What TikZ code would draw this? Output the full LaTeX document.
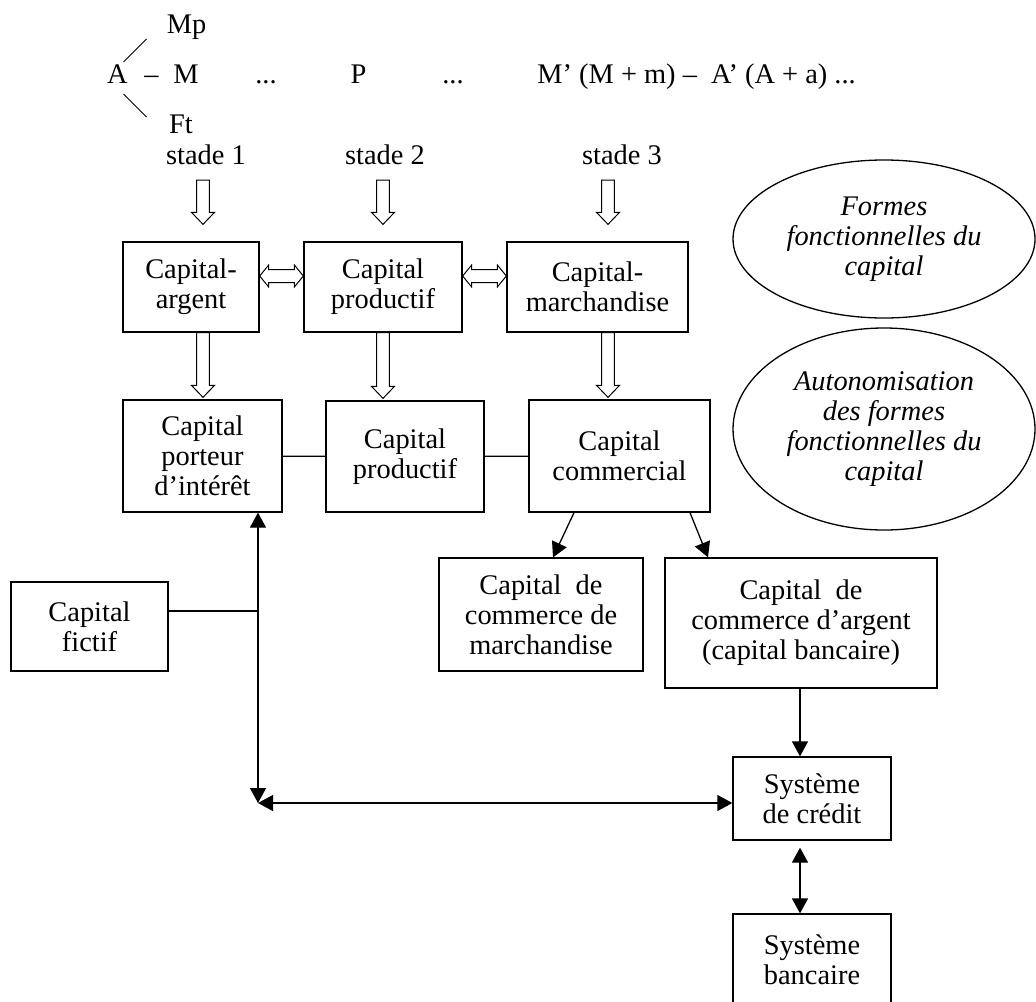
\documentclass[tikz,border=0pt]{standalone}
\usepackage{fontspec}
\setmainfont{Liberation Serif}
\usepackage{tikz}
\usetikzlibrary{arrows.meta,calc,shapes.geometric,positioning}

\tikzstyle{box}  = [draw,line width=0.65pt,align=center,inner sep=2pt]
\tikzstyle{txt}  = [inner sep=0pt,anchor=base]
\tikzstyle{oval} = [draw,ellipse,line width=0.65pt,align=center,inner sep=0pt,font=\fontsize{14.2}{15}\selectfont\itshape]
\tikzstyle{link} = [line width=0.65pt]
\tikzstyle{hollow} = [line width=0.5pt,to path={
  let \p1=(\tikztostart), \p2=(\tikztotarget) in
  ($(\p1)!3.2pt!90:(\p2)$) -- ($(\p2)!6pt!(\p1)!3.2pt!90:(\p2)$) -- ($(\p2)!6pt!(\p1)!5.75pt!90:(\p2)$) -- (\p2)
  -- ($(\p2)!6pt!(\p1)!5.75pt!-90:(\p2)$) -- ($(\p2)!6pt!(\p1)!3.2pt!-90:(\p2)$) -- ($(\p1)!3.2pt!-90:(\p2)$) -- cycle}]
\tikzstyle{hollowboth} = [line width=0.5pt,to path={
  let \p1=(\tikztostart), \p2=(\tikztotarget) in
  (\p1) -- ($(\p1)!4.5pt!(\p2)!5.5pt!90:(\p2)$) -- ($(\p1)!4.5pt!(\p2)!3.25pt!90:(\p2)$)
  -- ($(\p2)!4.5pt!(\p1)!3.25pt!90:(\p2)$) -- ($(\p2)!4.5pt!(\p1)!5.5pt!90:(\p2)$) -- (\p2)
  -- ($(\p2)!4.5pt!(\p1)!5.5pt!-90:(\p2)$) -- ($(\p2)!4.5pt!(\p1)!3.25pt!-90:(\p2)$)
  -- ($(\p1)!4.5pt!(\p2)!3.25pt!-90:(\p2)$) -- ($(\p1)!4.5pt!(\p2)!5.5pt!-90:(\p2)$) -- cycle}]

\begin{document}
\begin{tikzpicture}[x=0.5pt,y=-0.5pt,>={Triangle[length=7.5pt,width=8pt]},font=\fontsize{14.2}{15}\selectfont]
\useasboundingbox (0,0) rectangle (1036,1001);
\clip (0,0) rectangle (1036,1001);

% circuit du capital
\node[txt] (A)  at (117.5,83) {A};
\node[txt] (d1) at (151.5,83) {--};
\node[txt] (M)  at (186,83)   {M};
\node[txt] (e1) at (266,83)   {...};
\node[txt] (P)  at (358.5,83) {P};
\node[txt] (e2) at (453,83)   {...};
\node[txt,anchor=base west] (R) at (537,83) {M’ (M + m) --~ A’ (A + a) ...};
\node[txt] (Mp) at (186.5,33) {Mp};
\node[txt] (Ft) at (181,133)  {Ft};
\draw[line width=0.5pt] ($(A.base)+(6,-21)$) -- ($(A.base)+(29,-44)$);
\draw[line width=0.5pt] ($(A.base)+(6,11)$) -- ($(A.base)+(29,34)$);

\node[txt] (s1) at (206,164) {stade 1};
\node[txt] (s2) at (385,164) {stade 2};
\node[txt] (s3) at (622,164) {stade 3};

% formes fonctionnelles
\node[box,minimum width=68pt,minimum height=45pt]   (a1) at (191,287)   {Capital-\\argent};
\node[box,minimum width=79pt,minimum height=45pt]   (p1) at (383,287)   {Capital\\productif};
\node[box,minimum width=90.5pt,minimum height=45pt] (m1) at (597.5,287) {Capital-\\marchandise};

% formes autonomes
\node[box,minimum width=79.5pt,minimum height=56pt]   (porteur) at (202.5,456) {Capital\\porteur\\d’intérêt};
\node[box,minimum width=79pt,minimum height=55.5pt]   (prod2)   at (405,456.5) {Capital\\productif};
\node[box,minimum width=90.5pt,minimum height=56pt]   (comm)    at (619.5,456) {Capital\\commercial};
\node[box,minimum width=78.5pt,minimum height=44.5pt] (fictif)  at (89.5,626.5) {Capital\\fictif};
\node[box,minimum width=102pt,minimum height=56.5pt]  (march2)  at (541,614.5) {Capital~ de\\commerce de\\marchandise};
\node[box,minimum width=136pt,minimum height=65pt]    (arg2)    at (801,623)   {Capital~ de\\commerce d’argent\\(capital bancaire)};
\node[box,minimum width=79pt,minimum height=41.5pt]   (credit)  at (812,798.5) {Système\\de crédit};
\node[box,minimum width=79pt,minimum height=45.5pt]   (bank)    at (812,959.5) {Système\\bancaire};

\node[oval,minimum width=151pt,minimum height=79pt]  (forms) at (884,239) {Formes\\fonctionnelles du\\capital};
\node[oval,minimum width=151pt,minimum height=101pt] (auto)  at (884,429) {Autonomisation\\des formes\\fonctionnelles du\\capital};

\coordinate (corner) at (258,803);
\coordinate (join)   at (258,611);

\draw[hollow] ($(s1.base)+(-3,16)$)  to ($(a1.north)+(12,-17)$);
\draw[hollow] ($(s2.base)+(-2,16)$)  to ($(p1.north)+(0,-17)$);
\draw[hollow] ($(s3.base)+(-14,16)$) to ($(m1.north)+(10.5,-17)$);
\draw[hollowboth] ($(a1.east)+(0,-11)$) to ($(p1.west)+(0,-11)$);
\draw[hollowboth] ($(p1.east)+(0,-11)$) to ($(m1.west)+(0,-11)$);
\draw[hollow] ($(a1.south)+(12,0)$)   to ($(porteur.north)+(0.5,-2)$);
\draw[hollow] (p1.south)              to ($(prod2.north)+(-22,-2)$);
\draw[hollow] ($(m1.south)+(10.5,0)$) to ($(comm.north)+(-11.5,-2)$);

\draw[link] (porteur) -- (prod2);
\draw[link] (prod2) -- (comm);
\draw[link,->] ($(comm.south)+(-45.5,0)$) -- ($(march2.north)+(12,0)$);
\draw[link,->] ($(comm.south)+(70.5,0)$)  -- ($(arg2.north)+(-93,0)$);
\draw[link,->] ($(arg2.south)+(-1,0)$)    -- ($(credit.north)+(-12,0)$);
\draw[link,<->,shorten <=3.5pt] ($(credit.south)+(-12,0)$) -- ($(bank.north)+(-12,0)$);
\draw[link,<->] (porteur.south -| corner) -- (corner);
\draw[link,<->] (corner) -- (corner -| credit.west);
\draw[link] (fictif.east |- join) -- (join);

\end{tikzpicture}
\end{document}
